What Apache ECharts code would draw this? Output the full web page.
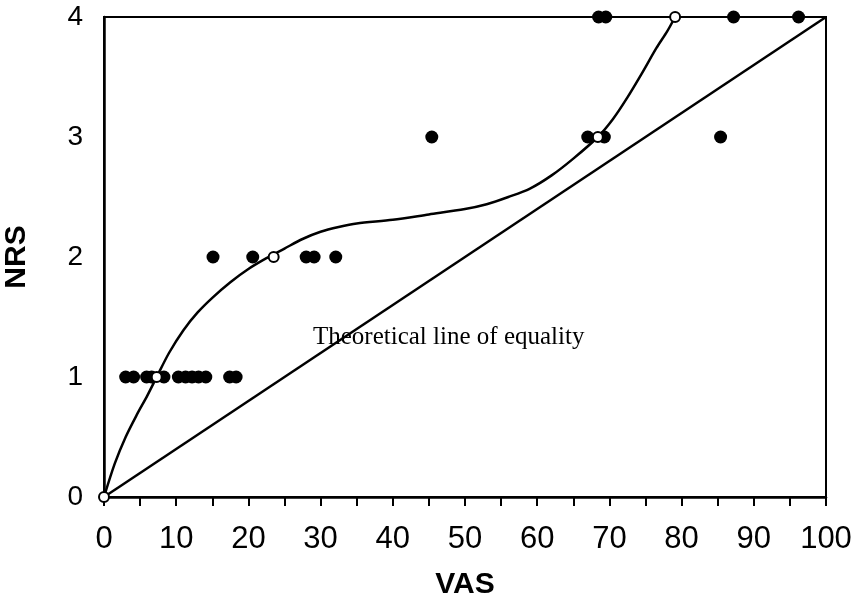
<!DOCTYPE html>
<html><head><meta charset="utf-8">
<script src="https://cdn.jsdelivr.net/npm/echarts@6/dist/echarts.min.js"></script>
<style>html,body{margin:0;padding:0;background:#fff}#c{width:863px;height:604px}</style>
</head><body><div id="c"></div>
<script>
// Filled observations [VAS, NRS]
var filledVAS = [3.0, 4.1, 5.9, 6.6, 8.3, 10.3, 11.3, 12.2, 13.1, 14.1, 17.4, 18.3,
                 15.1, 20.6, 28.0, 29.1, 32.1,
                 45.4, 67.0, 69.3, 85.4,
                 68.5, 69.5, 87.2, 96.2];
var filledNRS = [1, 1, 1, 1, 1, 1, 1, 1, 1, 1, 1, 1,
                 2, 2, 2, 2, 2,
                 3, 3, 3, 3,
                 4, 4, 4, 4];
// Open circles (medians)
var openVAS = [0, 7.3, 23.5, 68.4, 79.1];
var openNRS = [0, 1, 2, 3, 4];
// Fitted curve
var curveVAS = [0, 1.5, 3, 4.5, 6, 7.3, 9, 11, 13, 15, 17.5, 20, 22.5, 25, 27.5, 30, 32.5, 35, 40, 45, 50, 53, 56, 59, 62, 65, 68.4, 70.5, 72.5, 74.5, 76.5, 78, 79.1];
var curveNRS = [0, 0.28, 0.50, 0.68, 0.845, 1.0, 1.2, 1.39, 1.54, 1.66, 1.79, 1.90, 1.99, 2.07, 2.15, 2.21, 2.25, 2.28, 2.31, 2.355, 2.40, 2.44, 2.50, 2.57, 2.68, 2.82, 3.0, 3.15, 3.33, 3.53, 3.74, 3.88, 4.0];
// Theoretical line of equality
var eqVAS = [0, 100];
var eqNRS = [0, 4];
var xTicks = [0, 10, 20, 30, 40, 50, 60, 70, 80, 90, 100];
var yTicks = [0, 1, 2, 3, 4];
var annotation = 'Theoretical line of equality';

function zip(a, b) { return a.map(function (v, i) { return [v, b[i]]; }); }

var chart = echarts.init(document.getElementById('c'), null, {renderer: 'canvas'});
chart.setOption({
  animation: false,
  backgroundColor: '#fff',
  grid: {left: 104, right: 37, top: 17, bottom: 107, show: true, borderColor: '#000', borderWidth: 2,
         containLabel: false, outerBoundsMode: 'none'},
  xAxis: {
    type: 'value', min: xTicks[0], max: xTicks[xTicks.length - 1], interval: 10,
    name: 'VAS', nameLocation: 'middle', nameGap: 73,
    nameTextStyle: {fontFamily: 'Liberation Sans', fontWeight: 'bold', fontSize: 30, color: '#000'},
    axisLine: {lineStyle: {color: '#000', width: 2.5}},
    axisTick: {show: true, inside: false, length: 9, lineStyle: {color: '#000', width: 2}},
    minorTick: {show: true, splitNumber: 2, length: 9, lineStyle: {color: '#000', width: 2}},
    axisLabel: {fontFamily: 'Liberation Sans', fontSize: 31, color: '#000', margin: 27},
    splitLine: {show: false}
  },
  yAxis: {
    type: 'value', min: yTicks[0], max: yTicks[yTicks.length - 1], interval: 1,
    name: 'NRS', nameLocation: 'middle', nameGap: 72, nameRotate: 90,
    nameTextStyle: {fontFamily: 'Liberation Sans', fontWeight: 'bold', fontSize: 30, color: '#000'},
    axisLine: {show: true, lineStyle: {color: '#000', width: 2.5}},
    axisTick: {show: false},
    axisLabel: {fontFamily: 'Liberation Sans', fontSize: 28, color: '#000', margin: 21},
    splitLine: {show: false}
  },
  series: [
    {type: 'line', data: zip(eqVAS, eqNRS), symbol: 'none', lineStyle: {color: '#000', width: 2.5}, z: 2},
    {type: 'line', data: zip(curveVAS, curveNRS), smooth: 0.3, symbol: 'none',
     lineStyle: {color: '#000', width: 2.5}, z: 2},
    {type: 'scatter', data: zip(filledVAS, filledNRS), symbol: 'circle', symbolSize: 13, clip: false,
     itemStyle: {color: '#000', opacity: 1}, z: 3},
    {type: 'scatter', data: zip(openVAS, openNRS), symbol: 'circle', symbolSize: 10, clip: false,
     itemStyle: {color: '#fff', borderColor: '#000', borderWidth: 2, opacity: 1}, z: 4}
  ],
  graphic: [
    {type: 'text', left: 313, top: 325, z: 10,
     style: {text: annotation, font: '25px "Liberation Serif"', fill: '#000'}}
  ]
});
</script>
</body></html>
